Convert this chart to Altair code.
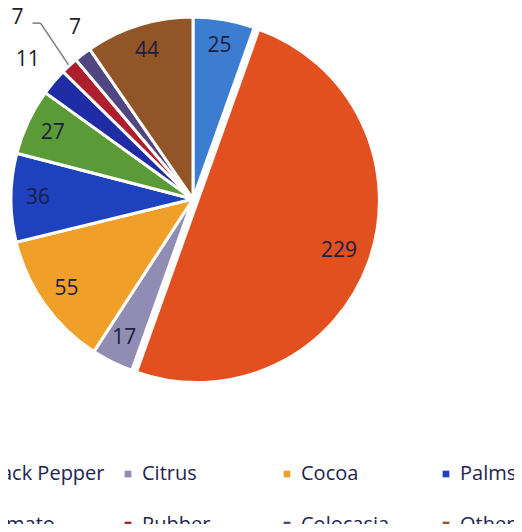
import math
import altair as alt
import pandas as pd

# ---- data ----
crops = ["Cardamom", "Black Pepper", "Citrus", "Cocoa", "Palms",
         "Betelvine", "Tomato", "Rubber", "Colocasia", "Others"]
counts = [25, 229, 17, 55, 36, 27, 11, 7, 7, 44]
colors = ["#3c7dd2", "#e1501e", "#918cb4", "#f0a028", "#1e41be",
          "#5a9b37", "#1e2da5", "#af1e2d", "#504682", "#915528"]

inside_labels = ["Cardamom", "Black Pepper", "Citrus", "Cocoa", "Palms", "Betelvine", "Others"]

df = pd.DataFrame({"crop": crops, "count": counts, "order": list(range(len(crops)))})
total = sum(counts)

# ---- layout ----
W, H = 506, 516
CX, CY = 185, 191
R = 182
FONT = "Open Sans"

theta_scale = alt.Scale(domain=[0, total], range=[0, 2 * math.pi])

def mid_angle(name):
    i = crops.index(name)
    before = sum(counts[:i])
    return (before + counts[i] / 2) / total * 2 * math.pi

# explode offset of the largest slice
bp = mid_angle("Black Pepper")
EX, EY = CX + 5 * math.sin(bp), CY - 5 * math.cos(bp)

base = alt.Chart(df).transform_window(
    cum="sum(count)", sort=[alt.SortField("order")], frame=[None, 0]
).transform_calculate(
    start="datum.cum - datum.count",
    mid="datum.cum - datum.count / 2",
)

color = alt.Color(
    "crop:N",
    scale=alt.Scale(domain=crops, range=colors),
    legend=alt.Legend(
        title=None, orient="none", legendX=-208, legendY=456,
        direction="horizontal", columns=5, gridAlign="all",
        columnPadding=13, rowPadding=31, symbolType="square",
        symbolSize=45, symbolStrokeWidth=0, labelFont=FONT,
        labelFontSize=20, labelColor="#23234f", labelOffset=4,
        labelLimit=0, padding=0,
    ),
)

arcs = base.transform_filter(alt.datum.crop != "Black Pepper").mark_arc(
    outerRadius=R, stroke="white", strokeWidth=3
).encode(
    theta=alt.Theta("start:Q", scale=theta_scale),
    theta2="cum:Q",
    color=color,
    x=alt.value(CX), y=alt.value(CY),
)

bp_arc = base.transform_filter(alt.datum.crop == "Black Pepper").mark_arc(
    outerRadius=R, stroke="white", strokeWidth=3
).encode(
    theta=alt.Theta("start:Q", scale=theta_scale),
    theta2="cum:Q",
    color=color,
    x=alt.value(EX), y=alt.value(EY),
)

inside = base.transform_filter(
    alt.FieldOneOfPredicate(field="crop", oneOf=inside_labels)
).mark_text(radius=155, font=FONT, fontSize=21, color="#1d1d3d").encode(
    theta=alt.Theta("mid:Q", scale=theta_scale, stack=False),
    text="count:Q",
    x=alt.value(CX), y=alt.value(CY),
)

def outside(name, radius, offset_deg):
    return base.transform_filter(alt.datum.crop == name).mark_text(
        radius=radius, thetaOffset=math.radians(offset_deg),
        font=FONT, fontSize=21, color="#222222"
    ).encode(
        theta=alt.Theta("mid:Q", scale=theta_scale, stack=False),
        text="count:Q",
        x=alt.value(CX), y=alt.value(CY),
    )

lab_tom = outside("Tomato", 216, 0)
lab_rub = outside("Rubber", 252, -1.3)
lab_col = outside("Colocasia", 208, 2.8)

# leader line for the Rubber label
ra = mid_angle("Rubber")
lx = CX + 252 * math.sin(ra + math.radians(-1.3))
ly = CY - 252 * math.cos(ra + math.radians(-1.3))
ex, ey = CX + (R + 1) * math.sin(ra), CY - (R + 1) * math.cos(ra)
elbow_x, elbow_y = lx + 23, ly + 5
rub = base.transform_filter(alt.datum.crop == "Rubber")
lead1 = rub.mark_rule(color="#7a7a80", strokeWidth=1.5).encode(
    x=alt.value(lx + 15), x2=alt.value(elbow_x),
    y=alt.value(elbow_y), y2=alt.value(elbow_y),
)
lead2 = rub.mark_rule(color="#7a7a80", strokeWidth=1.5).encode(
    x=alt.value(elbow_x), x2=alt.value(ex),
    y=alt.value(elbow_y), y2=alt.value(ey),
)

chart = alt.layer(
    arcs, bp_arc, inside, lab_tom, lab_rub, lab_col, lead1, lead2
).properties(
    width=W, height=H, autosize=alt.AutoSizeParams(type="none"), padding=0,
    background="white",
).configure_view(stroke=None)

chart.save("out.html", embed_options={"renderer": "svg", "actions": False})
